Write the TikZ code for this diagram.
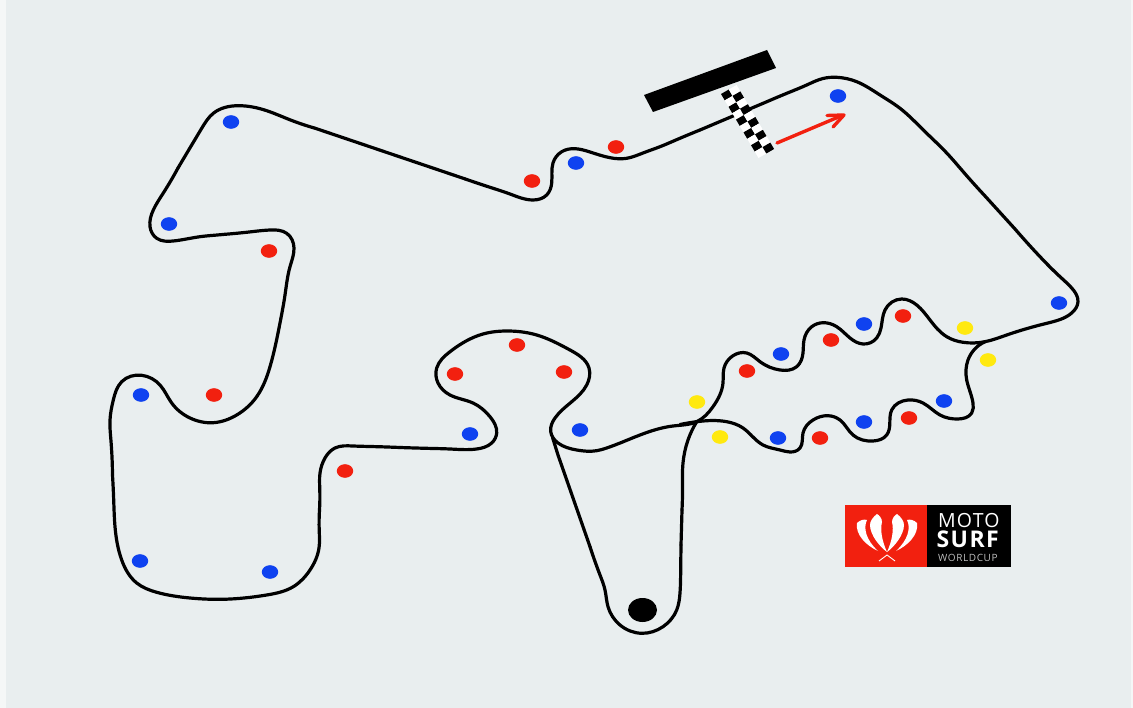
\documentclass[tikz,border=0pt]{standalone}
\usepackage{fontspec}
\setmainfont{Liberation Sans}
\newfontfamily\logofont[LetterSpace=6]{Open Sans}
\usetikzlibrary{hobby}
\definecolor{panel}{HTML}{E9EEEF}
\definecolor{outer}{HTML}{F5F7F7}
\definecolor{dblue}{HTML}{0F42F0}
\definecolor{dred}{HTML}{F2200F}
\definecolor{dyel}{HTML}{FFE90F}
\tikzset{x=1pt,y=-1pt,
 track/.style={draw=black,line width=3.2pt,line cap=round,line join=round},
 bd/.pic={\fill[dblue] (0,0) ellipse [x radius=8.2,y radius=6.8];},
 rd/.pic={\fill[dred] (0,0) ellipse [x radius=8.2,y radius=6.8];},
 yd/.pic={\fill[dyel] (0,0) ellipse [x radius=8.2,y radius=6.8];},
 halflogo/.pic={
  \fill[white] (-30,-32) .. controls (-27,-35) and (-23,-36) .. (-20,-35) .. controls (-24,-27) and (-21,-15) .. (-9,-4) .. controls (-20,-9) and (-32,-20) .. cycle;
  \fill[white] (-10,-41) .. controls (-8,-40) and (-5,-37) .. (-5,-33) .. controls (-7,-25) and (-5,-14) .. (0,-3) .. controls (-7,-8) and (-17,-20) .. (-17,-30) .. controls (-17,-34) and (-14,-38) .. cycle;
 }}
\begin{document}
\begin{tikzpicture}
\useasboundingbox (0,0) rectangle (1133,708);
\fill[outer] (0,0) rectangle (1133,708);
\fill[panel] (6,0) rectangle (1131,708);
% main loop: curved stretches with straight runs between them
\draw[track] plot[hobby] coordinates {(765,102.5)(790,92)(806.7,85)(823,78.5)(836.7,77.3)(856.7,81.7)(880,95)(900,108.3)(923.3,130)(946.7,153)(963,171.5)(985,196)};
\draw[track] (985,196)--(1015,229);
\draw[track] plot[hobby] coordinates {(1015,229)(1040,256.7)(1060,276.7)(1071.7,288)(1078,301.7)(1071.7,313)(1046.7,323.3)(1006.7,335)(985,341.7)(963,342.3)(946.7,336.7)(930,320)(916.7,305)(901.7,299)(885,310)(881,328)(876.7,338)(863,344)(850,338)(836.7,326.7)(823,322.7)(811.7,326.7)(804,340)(803,353)(796.7,366.7)(780,370)(760,361.7)(746.7,353)(733,355.7)(724,368)(723,383)(713,406.7)(696.7,421.7)(673,426)(640,435)(606.7,448)(596.7,450.7)(576.7,450)(558,443)(550.7,431.7)(555,418)(586.7,385)(589,368)(570,350)(536.7,335)(506.7,331)(483,334)(450,351.7)(436.7,368)(438,383)(450,395)(473,403)(490,416.7)(496.7,433)(491.7,443)(476.7,449)(450,449)(430,448.4)(400,447.5)};
\draw[track] plot[hobby] coordinates {(400,447.5)(370,446.5)(353,446)(335,448)(325,458)(320,473)(319.8,490)(319.5,510)};
\draw[track] plot[hobby] coordinates {(319.5,510)(319.2,530)(319,548)(310,570)(293.3,586.7)(266.7,595)(221.7,599.3)(190,598)(156.7,592.3)(136.7,583)(121.7,560)(115,526.7)(113.7,500)(112.5,475)};
\draw[track] plot[hobby] coordinates {(112.5,475)(110.9,440)(110,420)(113.3,400)(121.7,381.7)(141.7,375.3)(160,385)(171.7,403)(190,418)(213.3,422.7)(236.7,415)(256.7,396.7)(270,366.7)(280,323)(285,295)(290,266.7)(294,248)(286.7,233.3)(270,230)(250,231.9)(225,234.3)};
\draw[track] plot[hobby] coordinates {(225,234.3)(215,235.2)(200,236.7)(173.3,241)(156.7,238.3)(150,226.7)(153.3,210)(163,193.5)(178,168)};
\draw[track] plot[hobby] coordinates {(178,168)(192,144.5)(201.7,128.3)(213.3,113.3)(238.3,105.7)(266.7,110.7)(290,119.8)(315,128.2)};
\draw[track] (315,128.2)--(465,178.9);
\draw[track] plot[hobby] coordinates {(465,178.9)(490,187.3)(510,194)(533,200)(546.7,195)(551.7,183)(553,163)(561.7,151.7)(575,148.7)(590,152)(610,157.7)(626.7,158.3)(643,153)(660,146.7)(675,140.4)(700,130)};
\draw[track] (700,130)--(765,102.5);
% lower wiggle
\draw[track] plot[hobby] coordinates {
(680,424.5)(696.7,421.7)(726.7,421.7)(743,428)(763,445)(780,450)(790,452)(800,448)(803,433)(813,420)(828,415.7)(840,420)(853,435)(873,441)(886.7,435)(891.7,410)(908,400)(923,403)(940,415)(958,419)(971.7,413)(973,403)(966.7,380)(968,360)(985,341.7)};
% pit lane
\draw[track] (552.7,438)--(558,455)--(590,546.7);
\draw[track] plot[hobby] coordinates {(590,546.7)(600,575)(605,590)(608,606.7)(620,625)(641.7,633.3)(663,626.7)(676.7,610)(680,593)(680.7,570)(681,545)};
\draw[track] (681,545)--(682,510);
\draw[track] plot[hobby] coordinates {(682,510)(682.5,490)(683,463)(688,440)(696.7,421.7)};
\foreach \p in {(231,122),(169,224),(141,395),(140,561),(270,572),(470,434),(580,430),(576,163),(838,96),(1059,303),(781,354),(864,324),(944,401),(864,422),(778,438)} \pic at \p {bd};
\foreach \p in {(269,251),(214,395),(345,471),(455,374),(517,345),(564,372),(532,181),(616,147),(747,371),(831,340),(903,316),(909,418),(820,438)} \pic at \p {rd};
\foreach \p in {(697,402),(720,437),(965,328),(988,360)} \pic at \p {yd};
\fill[black] (642.5,610) ellipse [x radius=14.5,y radius=12];
% grandstand
\fill[black] (644,95)--(767,50)--(776,68)--(653,112)--cycle;
% chequered strip
\begin{scope}[shift={(721pt,-94pt)},x={(3.75pt,-6.4pt)},y={(7.8pt,4.5pt)}]
\foreach \i in {0,...,9}{
 \foreach \j in {0,1}{
  \pgfmathtruncatemacro{\k}{mod(\i+\j,2)}
  \ifnum\k=0 \fill[black] (\i,\j)--(\i+1,\j)--(\i+1,\j+1)--(\i,\j+1)--cycle;
  \else \fill[white] (\i,\j)--(\i+1,\j)--(\i+1,\j+1)--(\i,\j+1)--cycle;\fi
 }}
\end{scope}
% arrow
\draw[dred,line width=3.4pt,line cap=round,line join=round] (777,143)--(842,115.5);
\draw[dred,line width=3.4pt,line cap=round,line join=round] (827,115.5)--(844,115)--(833,127);
% logo
\fill[dred] (845,505) rectangle (927,567);
\fill[black] (927,505) rectangle (1011,567);
\pic at (887,555) {halflogo};
\pic[xscale=-1] at (887,555) {halflogo};
\draw[white,line width=0.9pt] (879,561)--(887,555)--(895,561);
\node[white,anchor=base west,inner sep=0pt,font=\fontsize{19.5}{20}\logofont] (moto) at (938,527) {MOTO};
\node[white,anchor=base west,inner sep=0pt,font=\fontsize{23}{23}\logofont\bfseries] (surf) at (936.5,547) {SURF};
\node[white!75!black,anchor=base west,inner sep=0pt,font=\fontsize{10}{10}\logofont] (wc) at (938,561) {WORLDCUP};
\end{tikzpicture}
\end{document}
